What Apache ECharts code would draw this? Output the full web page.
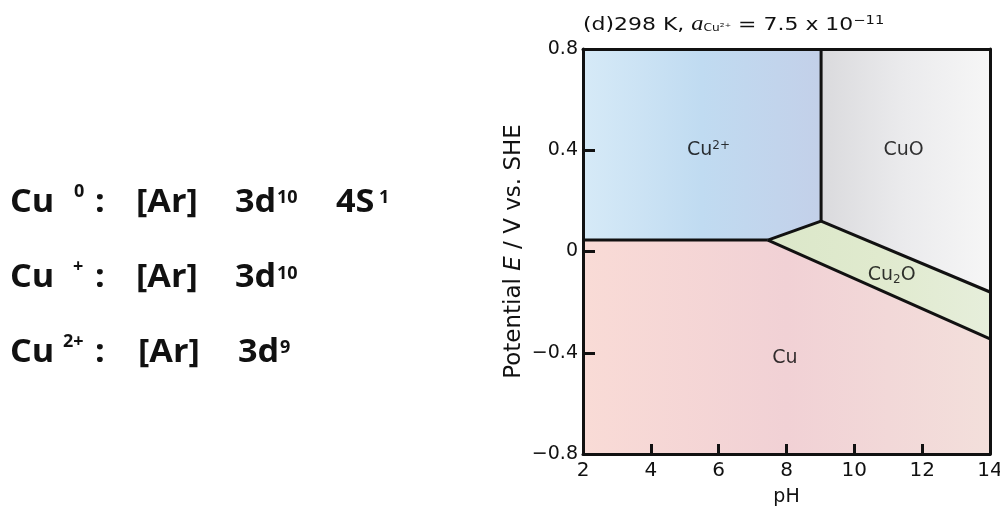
<!DOCTYPE html>
<html>
<head>
<meta charset="utf-8">
<script src="https://cdn.jsdelivr.net/npm/echarts@6/dist/echarts.min.js"></script>
<style>
  html, body { margin: 0; padding: 0; background: #fff; }
  #chart { width: 1000px; height: 507px; }
</style>
</head>
<body>
<div id="chart"></div>
<script>
// 坐标轴刻度
const xTicks = [2, 4, 6, 8, 10, 12, 14]
const yTicks = [-0.8, -0.4, 0, 0.4, 0.8]

// 各稳定区域 (pH, E)
const cu2Region = [[2, 0.8], [9.02, 0.8], [9.02, 0.12], [7.45, 0.045], [2, 0.045]]
const cuoRegion = [[9.02, 0.8], [14, 0.8], [14, -0.16], [9.02, 0.12]]
const cu2oRegion = [[7.45, 0.045], [9.02, 0.12], [14, -0.16], [14, -0.345]]
const cuRegion = [[2, 0.045], [7.45, 0.045], [14, -0.345], [14, -0.8], [2, -0.8]]

// 边界线
const lineCu2Cu = [[2, 0.045], [7.45, 0.045]]
const lineCu2Cu2o = [[7.45, 0.045], [9.02, 0.12]]
const lineCu2Cuo = [[9.02, 0.8], [9.02, 0.12]]
const lineCuoCu2o = [[9.02, 0.12], [14, -0.16]]
const lineCu2oCu = [[7.45, 0.045], [14, -0.345]]

// 区域名称位置
const regionLabels = [[5.7, 0.4, 'cu2'], [11.45, 0.4, 'cuo'], [11.1, -0.095, 'cu2o'], [7.95, -0.42, 'cu']]

const grad = (stops) => new echarts.graphic.LinearGradient(0, 0, 1, 0,
  stops.map((c, i) => ({ offset: i / (stops.length - 1), color: c })))

const regions = [
  { pts: cu2Region, fill: grad(['#d6eaf7', '#c0dbf1', '#c3d0e9']) },
  { pts: cuoRegion, fill: grad(['#dadadd', '#ebebed', '#f6f6f6']) },
  { pts: cu2oRegion, fill: grad(['#dbe7c9', '#e0eace', '#e6eedb']) },
  { pts: cuRegion, fill: grad(['#f9dbd6', '#f1d1d5', '#f3dfdb']) },
]

const font = 'DejaVu Sans'
const boundary = (data) => ({
  type: 'line',
  data: data,
  symbol: 'none',
  silent: true,
  z: 4,
  lineStyle: { color: '#111', width: 3 },
})

const labelText = {
  cu2: 'Cu{sup|2+}',
  cuo: 'CuO',
  cu2o: 'Cu{sub|2}O',
  cu: 'Cu',
}

// 左侧电子排布文字
const leftFont = '"Open Sans"'
const t = (x, y, text, size) => ({
  type: 'text',
  x: x,
  y: y,
  scaleX: size > 20 ? 1.07 : 1,
  style: {
    text: text,
    fill: '#111',
    font: 'bold ' + size + 'px ' + leftFont,
    verticalAlign: 'middle',
  },
})
const rows = [
  // Cu 0
  t(10, 203, 'Cu', 32), t(74, 192, '0', 18), t(95, 203, ':', 32), t(136, 203, '[Ar]', 32),
  t(235, 203, '3d', 32), t(277, 198, '10', 18), t(336, 203, '4S', 32), t(379, 198, '1', 18),
  // Cu +
  t(10, 278, 'Cu', 32), t(73, 267, '+', 18), t(95, 278, ':', 32), t(136, 278, '[Ar]', 32),
  t(235, 278, '3d', 32), t(277, 274, '10', 18),
  // Cu 2+
  t(10, 353, 'Cu', 32), t(63, 342, '2+', 18), t(95, 353, ':', 32), t(138, 353, '[Ar]', 32),
  t(238, 353, '3d', 32), t(280, 348, '9', 18),
]

// 标题
const titleText = {
  type: 'text',
  x: 583,
  y: 25,
  scaleX: 1.22,
  style: {
    text: '{n|(d)298 K, }{i|a}{sub|Cu²⁺}{n| = 7.5 x 10}{sup|−11}',
    verticalAlign: 'middle',
    rich: {
      n: { fontFamily: font, fontSize: 18, fill: '#111' },
      i: { fontFamily: 'Liberation Serif', fontStyle: 'italic', fontSize: 20, fill: '#111' },
      sub: { fontFamily: font, fontSize: 10, fill: '#111', padding: [7, 0, 0, 0] },
      sup: { fontFamily: font, fontSize: 12, fill: '#111', padding: [0, 0, 9, 0] },
    },
  },
}

const option = {
  animation: false,
  textStyle: { fontFamily: font },
  graphic: rows.concat([titleText]),
  grid: { left: 583, right: 10, top: 49, bottom: 53, outerBoundsMode: 'none', containLabel: false },
  xAxis: [
    {
      type: 'value',
      min: 2,
      max: 14,
      interval: 2,
      z: 6,
      name: 'pH',
      nameLocation: 'middle',
      nameGap: 34,
      nameTextStyle: { fontSize: 19, color: '#111' },
      axisLine: { onZero: false, lineStyle: { color: '#111', width: 3 } },
      axisTick: { inside: true, length: 10, lineStyle: { color: '#111', width: 3 } },
      axisLabel: {
        fontSize: 20,
        color: '#111',
        margin: 7,
        formatter: (v) => (xTicks.includes(v) ? String(v) : ''),
      },
      splitLine: { show: false },
    },
    {
      type: 'value',
      position: 'top',
      min: 2,
      max: 14,
      z: 6,
      axisLine: { onZero: false, lineStyle: { color: '#111', width: 3 } },
      axisTick: { show: false },
      axisLabel: { show: false },
      splitLine: { show: false },
    },
  ],
  yAxis: [
    {
      type: 'value',
      min: -0.8,
      max: 0.8,
      interval: 0.4,
      z: 6,
      name: '{n|Potential }{i|E}{n| / V vs. SHE}',
      nameLocation: 'middle',
      nameGap: 57,
      nameTextStyle: {
        rich: {
          n: { fontSize: 23, color: '#111', fontFamily: font },
          i: { fontSize: 23, color: '#111', fontFamily: font, fontStyle: 'italic' },
        },
      },
      axisLine: { onZero: false, lineStyle: { color: '#111', width: 3 } },
      axisTick: { inside: true, length: 12, lineStyle: { color: '#111', width: 3 } },
      axisLabel: {
        fontSize: 19,
        color: '#111',
        margin: 5,
        formatter: (v) => {
          const r = Math.round(v * 10) / 10
          if (!yTicks.some((y) => Math.abs(y - r) < 1e-9)) return ''
          if (r === 0) return '0'
          return (r < 0 ? '−' : '') + Math.abs(r).toFixed(1)
        },
      },
      splitLine: { show: false },
    },
    {
      type: 'value',
      position: 'right',
      min: -0.8,
      max: 0.8,
      z: 6,
      axisLine: { onZero: false, lineStyle: { color: '#111', width: 3 } },
      axisTick: { show: false },
      axisLabel: { show: false },
      splitLine: { show: false },
    },
  ],
  series: [
    // 区域填充
    {
      type: 'custom',
      silent: true,
      z: 1,
      data: regions.map((r, i) => [r.pts[0][0], r.pts[0][1], i]),
      renderItem: function (params, api) {
        const r = regions[params.dataIndex]
        return {
          type: 'polygon',
          shape: { points: r.pts.map((p) => api.coord(p)) },
          style: { fill: r.fill },
        }
      },
    },
    boundary(lineCu2Cu),
    boundary(lineCu2Cu2o),
    boundary(lineCu2Cuo),
    boundary(lineCuoCu2o),
    boundary(lineCu2oCu),
    // 区域名称
    {
      type: 'scatter',
      symbolSize: 0,
      silent: true,
      z: 5,
      data: regionLabels,
      label: {
        show: true,
        position: 'inside',
        formatter: (p) => labelText[p.data[2]],
        rich: {
          sup: { fontSize: 12, color: '#000', fontFamily: font, padding: [0, 0, 9, 0] },
          sub: { fontSize: 12, color: '#000', fontFamily: font, padding: [8, 0, 0, 0] },
        },
        fontSize: 19,
        color: '#000',
        fontFamily: font,
      },
    },
  ],
}
echarts.init(document.getElementById('chart')).setOption(option)
</script>
</body>
</html>
